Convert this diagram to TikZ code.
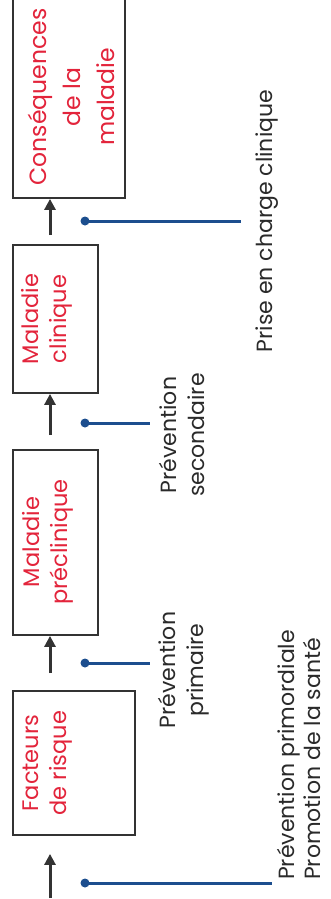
\documentclass[tikz,border=0pt]{standalone}
\usepackage{fontspec}
\setmainfont{Poppins}
\usetikzlibrary{arrows.meta}
\definecolor{boxred}{HTML}{E3243B}
\definecolor{lineblue}{HTML}{1C4E8E}
\definecolor{boxgray}{HTML}{333333}
\definecolor{notegray}{HTML}{2A2A2A}
\begin{document}
\begin{tikzpicture}[x=1pt,y=-1pt,
  stage/.style={draw=boxgray, line width=1.8pt, inner sep=0pt, fill=white},
  stagetext/.style={rotate=90, text=boxred, align=center, inner sep=0pt,
    font=\fontsize{22.5}{28}\selectfont},
  bigtext/.style={stagetext, font=\fontsize{23.5}{34}\selectfont},
  notetext/.style={rotate=90, text=notegray, align=center, inner sep=0pt,
    font=\fontsize{22}{28}\selectfont},
  flowarrow/.style={draw=boxgray, line width=3pt,
    -{Triangle[length=11pt,width=11pt]}},
  guide/.style={draw=lineblue, line width=3pt},
  dot/.style={circle, fill=lineblue, inner sep=0pt, minimum size=9pt}
]
\clip (0,0) rectangle (330,899);
\fill[white] (0,0) rectangle (330,899);

% stage boxes
\node[stage, minimum width=112pt, minimum height=208pt] (b1) at (69,94) {};
\node[stage, minimum width=85pt, minimum height=148pt] (b2) at (55.5,319) {};
\node[stage, minimum width=85pt, minimum height=185pt] (b3) at (55.5,542.5) {};
\node[stage, minimum width=122pt, minimum height=144pt] (b4) at (74,763) {};

% stage texts
\node[bigtext] (s1) at (71,97) {Conséquences\\de la\\maladie};
\node[stagetext] (s2) at (47,319) {Maladie\\clinique};
\node[stagetext] (s3) at (47.5,542) {Maladie\\préclinique};
\node[stagetext] (s4) at (48,763) {Facteurs\\de risque};

% arrows
\coordinate (t1) at (50,235);
\coordinate (t2) at (50,435);
\coordinate (t3) at (50,673);
\coordinate (t4) at (50,898);
\draw[flowarrow] (t1) -- (t1 |- b1.south);
\draw[flowarrow] (t2) -- (t2 |- b2.south);
\draw[flowarrow] (t3) -- (t3 |- b3.south);
\draw[flowarrow, shorten >=18pt] (t4) -- (t4 |- b4.south);

% prevention guides
\node[dot] (d1) at (85,221) {};
\node[dot] (d2) at (85,423) {};
\node[dot] (d3) at (85,663) {};
\node[dot] (d4) at (85,883) {};
\coordinate (e1) at (241,221);
\coordinate (e2) at (150,423);
\coordinate (e3) at (150,663);
\coordinate (e4) at (272,883);
\draw[guide] (d1.center) -- (e1);
\draw[guide] (d2.center) -- (e2);
\draw[guide] (d3.center) -- (e3);
\draw[guide] (d4.center) -- (e4);

% labels
\node[notetext] (l1) at (267,221) {Prise en charge clinique};
\node[notetext] (l2) at (182,435) {Prévention\\secondaire};
\node[notetext] (l3) at (183.5,670) {Prévention\\primaire};
\node[notetext, align=left, anchor=west, font=\fontsize{22}{26}\selectfont] (l4) at (299,880) {Prévention primordiale\\Promotion de la santé};
\end{tikzpicture}
\end{document}
